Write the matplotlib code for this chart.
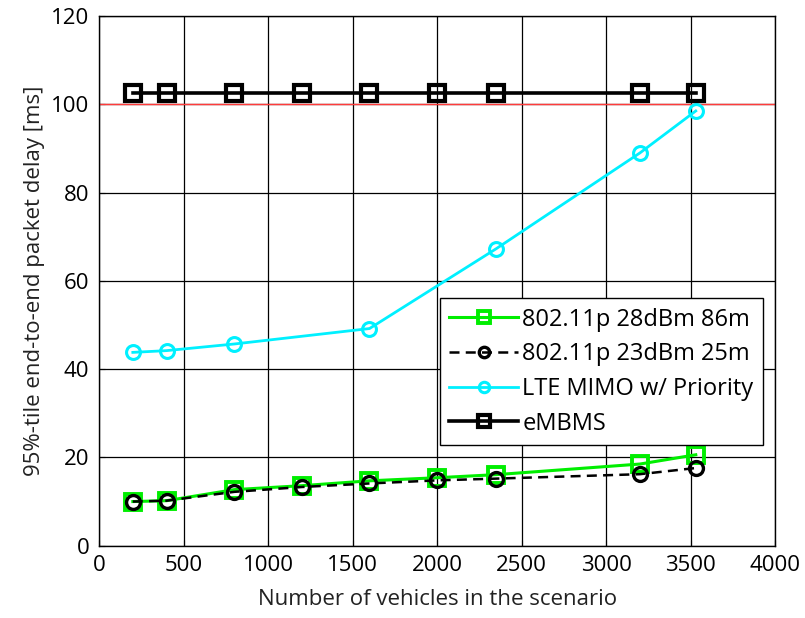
import matplotlib.pyplot as plt
import matplotlib

matplotlib.rcParams["font.family"] = ["Open Sans", "DejaVu Sans"]

# Vehicle counts per scenario
vehicles = [200, 400, 800, 1200, 1600, 2000, 2350, 3200, 3530]
vehicles_lte = [200, 400, 800, 1600, 2350, 3200, 3530]

# 95%-tile end-to-end packet delay [ms]
delay_11p_28dbm = [10.0, 10.2, 12.7, 13.6, 14.7, 15.4, 16.1, 18.5, 20.6]
delay_11p_23dbm = [10.0, 10.2, 12.2, 13.3, 14.1, 14.8, 15.2, 16.2, 17.6]
delay_lte = [43.8, 44.2, 45.7, 49.2, 67.3, 89.0, 98.5]
delay_embms = [102.6] * len(vehicles)

latency_limit = 100

fig, ax = plt.subplots(figsize=(8.05, 6.18), dpi=100)
fig.subplots_adjust(left=0.123, right=0.963, top=0.974, bottom=0.117)

ax.axhline(latency_limit, color="#ff3b3b", linewidth=1.0, zorder=1)

ax.plot(vehicles, delay_11p_28dbm, color="#00ee00", linestyle="-", linewidth=2.2,
        marker="s", markersize=11, markerfacecolor="none", markeredgewidth=2.8,
        label="802.11p 28dBm 86m", zorder=3)
ax.plot(vehicles, delay_11p_23dbm, color="black", linestyle="--", linewidth=1.8,
        dashes=(4, 2.5), marker="o", markersize=10, markerfacecolor="none",
        markeredgewidth=2.4, label="802.11p 23dBm 25m", zorder=4)
ax.plot(vehicles_lte, delay_lte, color="#00f0ff", linestyle="-", linewidth=2.0,
        marker="o", markersize=10, markerfacecolor="none", markeredgewidth=2.2,
        label="LTE MIMO w/ Priority", zorder=3)
ax.plot(vehicles, delay_embms, color="black", linestyle="-", linewidth=2.6,
        marker="s", markersize=11, markerfacecolor="none", markeredgewidth=3.0,
        label="eMBMS", zorder=3)

ax.set_xlim(0, 4000)
ax.set_ylim(0, 120)
ax.set_xticks(range(0, 4001, 500))
ax.set_yticks(range(0, 121, 20))
ax.grid(True, color="black", linewidth=0.9, linestyle="-")
ax.set_axisbelow(True)
ax.tick_params(direction="in", length=4, labelsize=16, colors="black", pad=7)
for spine in ax.spines.values():
    spine.set_linewidth(1.0)

ax.set_xlabel("Number of vehicles in the scenario", fontsize=16, color="#222222", labelpad=9)
ax.set_ylabel("95%-tile end-to-end packet delay [ms]", fontsize=16, color="#222222", labelpad=4)

leg = ax.legend(loc="lower left", bbox_to_anchor=(0.504, 0.19), borderaxespad=0,
                fontsize=17, frameon=True, fancybox=False, framealpha=1,
                edgecolor="black", handlelength=2.9, borderpad=0.4,
                labelspacing=0.45, handletextpad=0.2, markerscale=0.75)
leg.get_frame().set_linewidth(1.0)

plt.savefig("out.png", dpi=100)
